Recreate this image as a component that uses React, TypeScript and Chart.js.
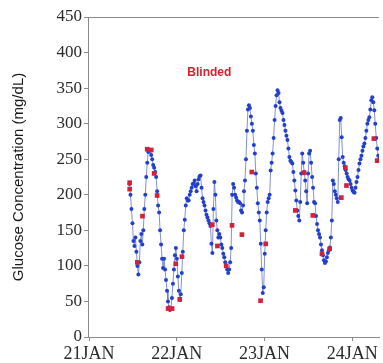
import { useEffect, useRef } from 'react';
import { Chart, registerables } from 'chart.js';

Chart.register(...registerables);

// X axis: hours since 21JAN 00:00
const dayLabels = ['21JAN', '22JAN', '23JAN', '24JAN'];
const dayTickHours = [0, 24, 48, 72];
const xMinHour = -0.3;
const xMaxHour = 79.3;

const yMin = 0;
const yMax = 450;
const yStep = 50;
const yTitle = 'Glucose Concentration (mg/dL)';
const annotationText = 'Blinded';
const annotationHour = 32.9;
const annotationValue = 372;

// Blinded CGM trace (regular sampling)
const cgmStartHour = 11.05;
const cgmIntervalHours = 0.27;
const cgmValues = [
  215, 200, 180, 160, 135, 128, 140, 120, 100, 88,
  105, 135, 145, 130, 150, 180, 200, 225, 245, 260,
  263, 262, 256, 250, 242, 238, 232, 225, 205, 185,
  175, 150, 130, 110, 97, 110, 95, 80, 65, 50,
  42, 38, 40, 55, 75, 95, 115, 125, 110, 85,
  65, 52, 60, 90, 120, 150, 165, 185, 195, 192,
  192, 200, 205, 210, 215, 216, 220, 212, 205, 215,
  222, 226, 227, 210, 195, 190, 185, 178, 172, 168,
  164, 160, 156, 131, 118, 180, 218, 200, 164, 150,
  140, 145, 140, 130, 125, 117, 112, 105, 100, 95,
  90, 95, 105, 125, 200, 215, 210, 200, 196, 192,
  190, 190, 188, 178, 175, 185, 205, 220, 250, 290,
  320, 326, 322, 310, 300, 290, 270, 258, 230, 210,
  188, 175, 164, 131, 95, 62, 70, 117, 150, 175,
  190, 195, 200, 234, 245, 258, 280, 305, 325, 340,
  347, 343, 330, 322, 318, 315, 305, 298, 290, 283,
  277, 265, 253, 248, 246, 244, 232, 220, 206, 192,
  178, 170, 164, 190, 230, 258, 245, 232, 220, 205,
  188, 230, 258, 262, 245, 225, 210, 190, 188, 170,
  159, 150, 145, 140, 130, 122, 115, 108, 104, 106,
  112, 118, 122, 126, 140, 164, 220, 215, 205, 200,
  195, 190, 250, 305, 308, 281, 253, 245, 240, 235,
  230, 225, 222, 220, 215, 210, 206, 204, 203, 210,
  218, 225, 235, 244, 250, 255, 262, 268, 272, 280,
  290, 300, 305, 309, 320, 333, 337, 330, 319, 300,
  280, 265, 255, 250,
];

// Reference meter readings
const meterHours = [
  11.1, 11.1, 13.2, 14.6, 15.9, 17.0, 17.8, 18.6, 21.6, 22.7,
  23.7, 24.8, 25.4, 33.7, 35.1, 37.5, 39.1, 41.8, 44.5, 46.9,
  48.3, 56.4, 58.8, 61.2, 63.7, 65.8, 69.0, 70.1, 70.4, 77.9,
  78.8,
];
const meterValues = [
  217, 208, 105, 170, 264, 263, 230, 199, 40, 40,
  103, 53, 113, 158, 128, 100, 157, 144, 232, 51,
  131, 178, 231, 171, 117, 124, 196, 238, 213, 279,
  248,
];

const frameAndLabel = {
  id: 'frameAndLabel',
  afterDraw(chart: any) {
    const { ctx, chartArea, scales } = chart;
    ctx.save();
    ctx.strokeStyle = '#8a8a8a';
    ctx.lineWidth = 1;
    ctx.beginPath();
    ctx.moveTo(chartArea.left, chartArea.top + 0.5);
    ctx.lineTo(chartArea.right, chartArea.top + 0.5);
    ctx.stroke();
    ctx.fillStyle = '#d8202c';
    ctx.font = 'bold 12px "Liberation Sans", Arial, sans-serif';
    ctx.textAlign = 'center';
    ctx.textBaseline = 'middle';
    ctx.fillText(
      annotationText,
      scales.x.getPixelForValue(annotationHour),
      scales.y.getPixelForValue(annotationValue)
    );
    ctx.restore();
  },
};

export default function App() {
  const ref = useRef<HTMLCanvasElement | null>(null);

  useEffect(() => {
    if (!ref.current) return;
    const cgmPoints = cgmValues.map((v, i) => ({
      x: cgmStartHour + i * cgmIntervalHours,
      y: v,
    }));
    const meterPoints = meterValues.map((v, i) => ({ x: meterHours[i], y: v }));

    const chart = new Chart(ref.current, {
      type: 'scatter',
      data: {
        datasets: [
          {
            label: 'Meter',
            data: meterPoints,
            showLine: false,
            pointStyle: 'rect',
            pointRadius: 3.3,
            pointBackgroundColor: '#d3213c',
            pointBorderWidth: 0,
            order: 0,
          },
          {
            label: 'CGM',
            data: cgmPoints,
            showLine: true,
            borderColor: 'rgba(90,110,195,0.75)',
            borderWidth: 1,
            pointRadius: 2,
            pointBackgroundColor: '#2340cc',
            pointBorderWidth: 0,
            order: 1,
          },
        ],
      },
      options: {
        responsive: false,
        animation: false,
        layout: { padding: { top: 17, left: 0, right: 0, bottom: 0 } },
        plugins: {
          legend: { display: false },
          tooltip: { enabled: false },
        },
        scales: {
          x: {
            type: 'linear',
            min: xMinHour,
            max: xMaxHour,
            afterBuildTicks: (scale: any) => {
              scale.ticks = dayTickHours.map((v) => ({ value: v }));
            },
            afterFit: (scale: any) => {
              scale.height = 26;
            },
            ticks: {
              autoSkip: false,
              maxRotation: 0,
              padding: 2,
              color: '#2a2a2a',
              font: { family: '"Liberation Serif", serif', size: 18 },
              callback: (value: any) => {
                const idx = dayTickHours.indexOf(Number(value));
                return idx >= 0 ? dayLabels[idx] : '';
              },
            },
            grid: {
              display: true,
              drawOnChartArea: false,
              drawTicks: true,
              tickLength: 4,
              color: '#8a8a8a',
            },
            border: { display: true, color: '#8a8a8a', width: 1 },
          },
          y: {
            type: 'linear',
            min: yMin,
            max: yMax,
            afterFit: (scale: any) => {
              scale.width = 88;
            },
            ticks: {
              stepSize: yStep,
              padding: 2,
              color: '#2a2a2a',
              font: { family: '"Liberation Serif", serif', size: 17 },
            },
            title: {
              display: true,
              text: yTitle,
              color: '#1a1a1a',
              font: { family: '"Liberation Sans", Arial, sans-serif', size: 15 },
              padding: { top: 10, bottom: 0 },
            },
            grid: {
              display: true,
              drawOnChartArea: false,
              drawTicks: true,
              tickLength: 4,
              color: '#8a8a8a',
            },
            border: { display: true, color: '#8a8a8a', width: 1 },
          },
        },
      },
      plugins: [frameAndLabel],
    });
    return () => chart.destroy();
  }, []);

  return (
    <div style={{ position: 'fixed', left: 0, top: 0, width: 383, height: 363, background: '#fff' }}>
      <canvas ref={ref} width={383} height={363} />
    </div>
  );
}
